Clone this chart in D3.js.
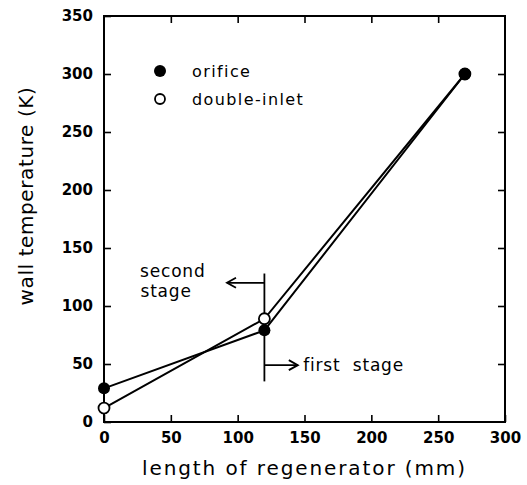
<!DOCTYPE html>
<html>
<head>
<meta charset="utf-8">
<script src="https://cdn.jsdelivr.net/npm/d3@7"></script>
<style>
  body { margin: 0; background: #fff; }
  svg text { font-family: "DejaVu Sans", "Liberation Sans", sans-serif; fill: #000; }
</style>
</head>
<body>
<svg id="chart" width="527" height="485"></svg>
<script>
// Regenerator wall temperature along its length
const positions = [0, 120, 270];            // mm
const orifice = [29, 79, 300];              // K
const doubleInlet = [12, 89, 300];          // K
const xTicks = [0, 50, 100, 150, 200, 250, 300];
const yTicks = [0, 50, 100, 150, 200, 250, 300, 350];
const seriesNames = ["orifice", "double-inlet"];
const stageBoundary = 120;                  // mm, split between stages

const svg = d3.select("#chart");
const m = { left: 104, right: 22, top: 16, bottom: 63 };
const W = 527, H = 485;
const x = d3.scaleLinear().domain([0, 300]).range([m.left, W - m.right]);
const y = d3.scaleLinear().domain([0, 350]).range([H - m.bottom, m.top]);

const tickLen = 7;
const axisStroke = 2;

// Frame
svg.append("rect")
  .attr("x", x(0)).attr("y", y(350))
  .attr("width", x(300) - x(0)).attr("height", y(0) - y(350))
  .attr("fill", "none").attr("stroke", "#000").attr("stroke-width", axisStroke);

// Axes with inward ticks on all four sides
const styleAxis = g => {
  g.select(".domain").remove();
  g.selectAll(".tick line").attr("stroke", "#000").attr("stroke-width", 1.6);
};
svg.append("g").attr("transform", `translate(0,${y(0)})`)
  .call(d3.axisBottom(x).tickValues(xTicks).tickSizeInner(-tickLen).tickPadding(10).tickFormat(d3.format("d")))
  .call(styleAxis)
  .selectAll("text").attr("font-size", 15).attr("font-weight", "bold").attr("dy", "0.71em");
svg.append("g").attr("transform", `translate(0,${y(350)})`)
  .call(d3.axisTop(x).tickValues(xTicks.slice(1, -1)).tickSizeInner(-tickLen).tickFormat(""))
  .call(styleAxis);
svg.append("g").attr("transform", `translate(${x(0)},0)`)
  .call(d3.axisLeft(y).tickValues(yTicks).tickSizeInner(-tickLen).tickPadding(11).tickFormat(d3.format("d")))
  .call(styleAxis)
  .selectAll("text").attr("font-size", 15).attr("font-weight", "bold");
svg.append("g").attr("transform", `translate(${x(300)},0)`)
  .call(d3.axisRight(y).tickValues(yTicks.slice(1, -1)).tickSizeInner(-tickLen).tickFormat(""))
  .call(styleAxis);

// Axis titles
svg.append("text")
  .attr("x", (x(0) + x(300)) / 2).attr("y", 475)
  .attr("text-anchor", "middle").attr("font-size", 20)
  .attr("letter-spacing", 1.9)
  .text("length of regenerator (mm)");
svg.append("text")
  .attr("transform", "translate(33,196) rotate(-90)")
  .attr("text-anchor", "middle").attr("font-size", 20)
  .attr("letter-spacing", 0.6)
  .text("wall temperature (K)");

// Lines
const line = d3.line().x((d, i) => x(positions[i])).y(d => y(d));
[orifice, doubleInlet].forEach(vals => {
  svg.append("path").datum(vals)
    .attr("d", line)
    .attr("fill", "none").attr("stroke", "#000").attr("stroke-width", 2);
});

// Stage annotation
const ann = svg.append("g").attr("stroke", "#000").attr("stroke-width", 1.8).attr("fill", "none");
ann.append("line")
  .attr("x1", x(stageBoundary)).attr("x2", x(stageBoundary))
  .attr("y1", y(128)).attr("y2", y(35));
ann.append("line")
  .attr("x1", x(stageBoundary)).attr("x2", x(92))
  .attr("y1", y(120)).attr("y2", y(120));
ann.append("path")
  .attr("d", `M${x(92) + 9},${y(120) - 5} L${x(92)},${y(120)} L${x(92) + 9},${y(120) + 5}`);
ann.append("line")
  .attr("x1", x(stageBoundary)).attr("x2", x(145))
  .attr("y1", y(49)).attr("y2", y(49));
ann.append("path")
  .attr("d", `M${x(145) - 9},${y(49) - 5} L${x(145)},${y(49)} L${x(145) - 9},${y(49) + 5}`);

const annText = (tx, ty, s) => svg.append("text")
  .attr("x", tx).attr("y", ty).attr("font-size", 17).attr("letter-spacing", 0.8).text(s);
annText(x(27), y(125), "second");
annText(x(27.3), y(108), "stage");
annText(x(149), y(44), "first  stage").attr("xml:space", "preserve").style("white-space", "pre");

// Markers: open circles drawn first, filled on top
svg.selectAll(".di").data(doubleInlet).join("circle")
  .attr("cx", (d, i) => x(positions[i])).attr("cy", d => y(d)).attr("r", 5.5)
  .attr("fill", "#fff").attr("stroke", "#000").attr("stroke-width", 1.8);
svg.selectAll(".or").data(orifice).join("circle")
  .attr("cx", (d, i) => x(positions[i])).attr("cy", d => y(d)).attr("r", 6)
  .attr("fill", "#000");

// Legend
const legend = svg.append("g");
seriesNames.forEach((name, i) => {
  const cy = 71 + i * 28;
  legend.append("circle")
    .attr("cx", 160).attr("cy", cy).attr("r", i === 0 ? 6 : 5)
    .attr("fill", i === 0 ? "#000" : "#fff")
    .attr("stroke", "#000").attr("stroke-width", i === 0 ? 0 : 1.8);
  legend.append("text")
    .attr("x", 192).attr("y", cy).attr("dy", "0.35em")
    .attr("font-size", 16).attr("letter-spacing", 1.4)
    .text(name);
});
</script>
</body>
</html>
